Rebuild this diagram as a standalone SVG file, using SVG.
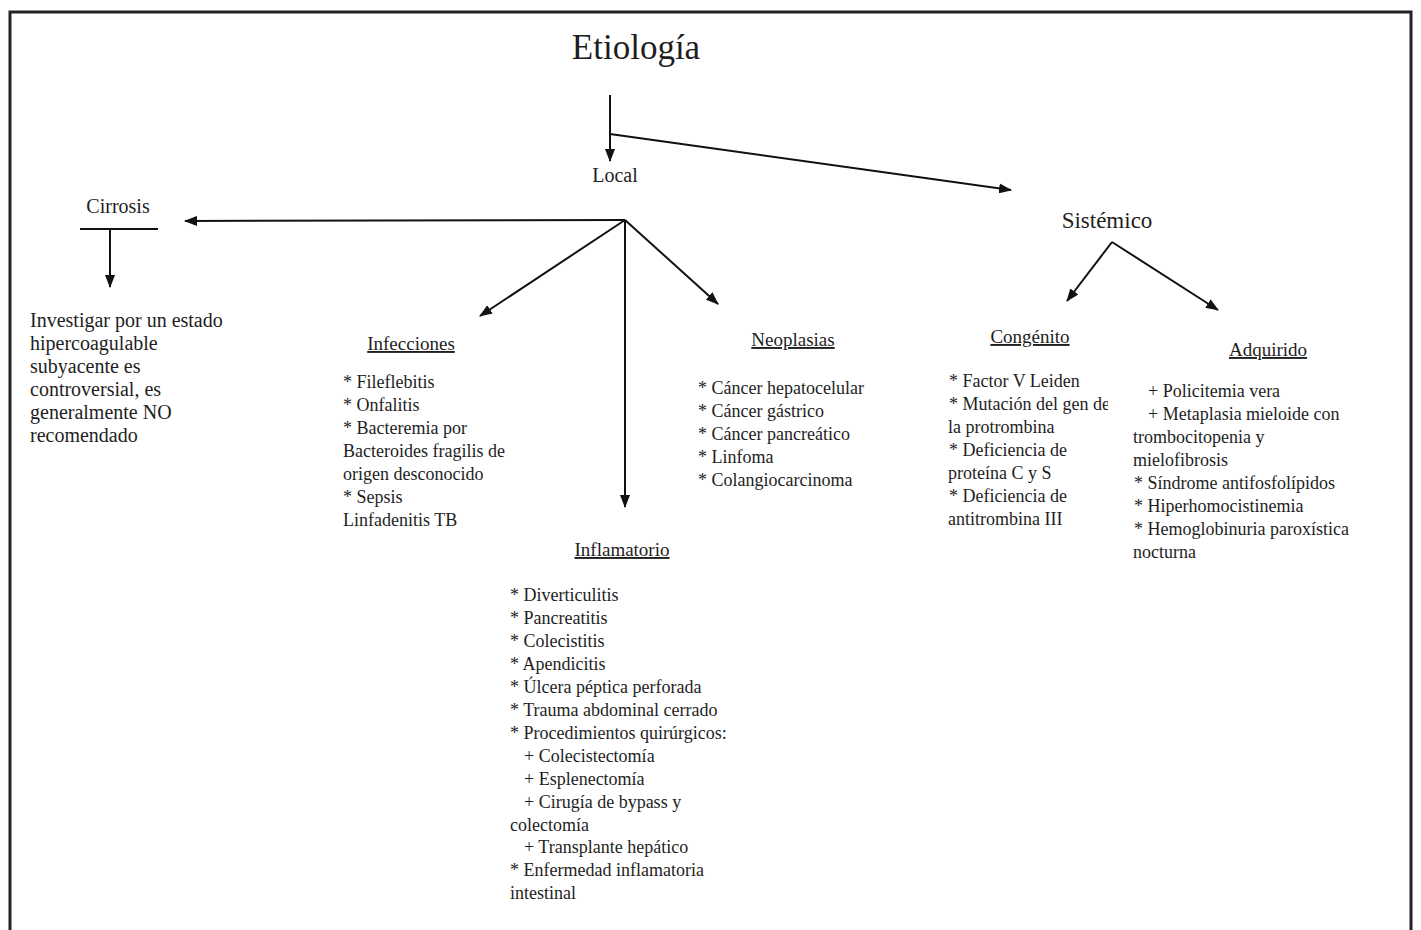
<svg xmlns="http://www.w3.org/2000/svg" width="1421" height="930" viewBox="0 0 1421 930">
<style>
text{font-family:"Liberation Serif","Times New Roman",serif;fill:#1e1e1e}
.t{font-size:18px}
.h{font-size:19px;text-anchor:middle;text-decoration:underline}
.big{font-size:20px}
.c line{stroke:#111;stroke-width:2}
</style>
<defs>
<marker id="ah" markerUnits="userSpaceOnUse" markerWidth="13" markerHeight="10" refX="12" refY="5" orient="auto">
<path d="M0,0 L13,5 L0,10 z" fill="#111"/>
</marker>
<clipPath id="cg"><rect x="900" y="390" width="208" height="30"/></clipPath>
</defs>
<rect x="0" y="0" width="1421" height="930" fill="#fff"/>
<rect x="10" y="12" width="1401" height="940" fill="none" stroke="#222" stroke-width="3"/>

<g class="c" id="connectors">
<line x1="610" y1="95" x2="610" y2="161" marker-end="url(#ah)"/>
<line x1="610" y1="134" x2="1011" y2="190" marker-end="url(#ah)"/>
<line x1="625" y1="220" x2="185" y2="221" marker-end="url(#ah)"/>
<line x1="625" y1="220" x2="480" y2="316" marker-end="url(#ah)"/>
<line x1="625" y1="220" x2="625" y2="507" marker-end="url(#ah)"/>
<line x1="625" y1="220" x2="718" y2="304" marker-end="url(#ah)"/>
<line x1="80" y1="229" x2="158" y2="229"/>
<line x1="110" y1="229" x2="110" y2="287" marker-end="url(#ah)"/>
<line x1="1112" y1="242" x2="1067" y2="301" marker-end="url(#ah)"/>
<line x1="1112" y1="242" x2="1218" y2="310" marker-end="url(#ah)"/>
</g>

<g id="etiologia"><text x="636" y="59" font-size="35" text-anchor="middle">Etiología</text></g>
<g id="local"><text x="615" y="182" font-size="20" text-anchor="middle">Local</text></g>
<g id="sistemico"><text x="1107" y="228" font-size="23" text-anchor="middle">Sistémico</text></g>
<g id="cirrosis"><text x="118" y="213" font-size="20" text-anchor="middle">Cirrosis</text></g>

<g id="investigar" class="big">
<text x="30" y="327">Investigar por un estado</text>
<text x="30" y="350">hipercoagulable</text>
<text x="30" y="373">subyacente es</text>
<text x="30" y="396">controversial, es</text>
<text x="30" y="419">generalmente NO</text>
<text x="30" y="442">recomendado</text>
</g>

<g id="infecciones">
<text class="h" x="411" y="350">Infecciones</text>
<text class="t" x="343" y="388">* Fileflebitis</text>
<text class="t" x="343" y="411">* Onfalitis</text>
<text class="t" x="343" y="434">* Bacteremia por</text>
<text class="t" x="343" y="457">Bacteroides fragilis de</text>
<text class="t" x="343" y="480">origen desconocido</text>
<text class="t" x="343" y="503">* Sepsis</text>
<text class="t" x="343" y="526">Linfadenitis TB</text>
</g>

<g id="neoplasias">
<text class="h" x="793" y="346">Neoplasias</text>
<text class="t" x="698" y="394">* Cáncer hepatocelular</text>
<text class="t" x="698" y="417">* Cáncer gástrico</text>
<text class="t" x="698" y="440">* Cáncer pancreático</text>
<text class="t" x="698" y="463">* Linfoma</text>
<text class="t" x="698" y="486">* Colangiocarcinoma</text>
</g>

<g id="inflamatorio">
<text class="h" x="622" y="556">Inflamatorio</text>
<text class="t" x="510" y="601">* Diverticulitis</text>
<text class="t" x="510" y="624">* Pancreatitis</text>
<text class="t" x="510" y="647">* Colecistitis</text>
<text class="t" x="510" y="670">* Apendicitis</text>
<text class="t" x="510" y="693">* Úlcera péptica perforada</text>
<text class="t" x="510" y="716">* Trauma abdominal cerrado</text>
<text class="t" x="510" y="739">* Procedimientos quirúrgicos:</text>
<text class="t" x="524" y="762">+ Colecistectomía</text>
<text class="t" x="524" y="785">+ Esplenectomía</text>
<text class="t" x="524" y="808">+ Cirugía de bypass y</text>
<text class="t" x="510" y="831">colectomía</text>
<text class="t" x="524" y="853">+ Transplante hepático</text>
<text class="t" x="510" y="876">* Enfermedad inflamatoria</text>
<text class="t" x="510" y="899">intestinal</text>
</g>

<g id="congenito">
<text class="h" x="1030" y="343">Congénito</text>
<text class="t" x="949" y="387">* Factor V Leiden</text>
<text class="t" x="949" y="410" clip-path="url(#cg)">* Mutación del gen de</text>
<text class="t" x="948" y="433">la protrombina</text>
<text class="t" x="949" y="456">* Deficiencia de</text>
<text class="t" x="948" y="479">proteína C y S</text>
<text class="t" x="949" y="502">* Deficiencia de</text>
<text class="t" x="948" y="525">antitrombina III</text>
</g>

<g id="adquirido">
<text class="h" x="1268" y="356">Adquirido</text>
<text class="t" x="1148" y="397">+ Policitemia vera</text>
<text class="t" x="1148" y="420">+ Metaplasia mieloide con</text>
<text class="t" x="1133" y="443">trombocitopenia y</text>
<text class="t" x="1133" y="466">mielofibrosis</text>
<text class="t" x="1134" y="489">* Síndrome antifosfolípidos</text>
<text class="t" x="1134" y="512">* Hiperhomocistinemia</text>
<text class="t" x="1134" y="535">* Hemoglobinuria paroxística</text>
<text class="t" x="1133" y="558">nocturna</text>
</g>
</svg>
